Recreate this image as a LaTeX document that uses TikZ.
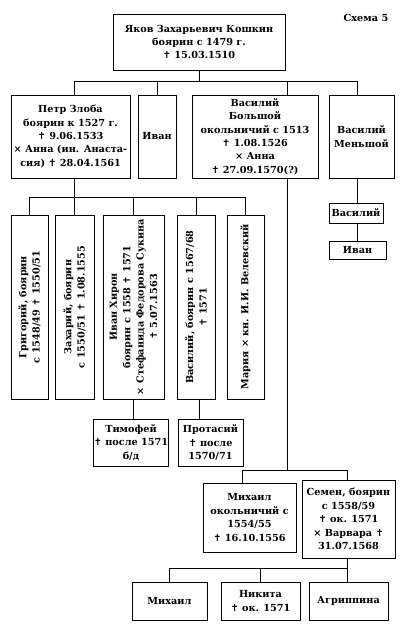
\documentclass[tikz,border=0pt]{standalone}
\usepackage{fontspec}
\setmainfont{DejaVu Serif}
\newfontfamily\crossfont{DejaVu Sans}
\newcommand\dcr{{\crossfont\mdseries ✝}}
\begin{document}
\begin{tikzpicture}[x=1pt,y=-1pt,
  box/.style={draw,line width=1pt,inner sep=0pt,align=center,
    font=\fontsize{9.7}{13.4}\selectfont\bfseries},
  vbox/.style={box,rotate=90},
  conn/.style={line width=1pt}]
\useasboundingbox (0,0) rectangle (400,627);
% generation 1
\node[box,minimum width=172,minimum height=56] (top) at (199,42)
  {Яков Захарьевич Кошкин\\боярин с 1479 г.\\\dcr\ 15.03.1510};
\node[font=\fontsize{9.7}{12}\selectfont\bfseries] (schema) at (366,18) {Схема 5};
% generation 2
\node[box,minimum width=119,minimum height=83] (petr) at (70.5,136.5)
  {Петр Злоба\\боярин к 1527 г.\\\dcr\ 9.06.1533\\× Анна (ин. Анаста-\\сия) \dcr\ 28.04.1561};
\node[box,minimum width=38,minimum height=83] (ivan) at (157,136.5) {Иван};
\node[box,minimum width=126,minimum height=83] (vasb) at (255,136.5)
  {Василий\\Большой\\окольничий с 1513\\\dcr\ 1.08.1526\\× Анна\\\dcr\ 27.09.1570(?)};
\node[box,minimum width=65,minimum height=83] (vasm) at (361.5,136.5) {Василий\\Меньшой};
% children of Petr
\node[vbox,minimum width=184,minimum height=37] (grig) at (29.5,307)
  {Григорий, боярин\\с 1548/49 \dcr\ 1550/51};
\node[vbox,minimum width=184,minimum height=39] (zach) at (74.5,307)
  {Захарий, боярин\\с 1550/51 \dcr\ 1.08.1555};
\node[vbox,minimum width=184,minimum height=61] (ivh) at (133.5,307)
  {Иван Хирон\\боярин с 1558 \dcr\ 1571\\× Стефанида Федорова Сукина\\\dcr\ 5.07.1563};
\node[vbox,minimum width=184,minimum height=38] (vas2) at (196,307)
  {Василий, боярин с 1567/68\\\dcr\ 1571};
\node[vbox,minimum width=184,minimum height=37] (maria) at (245.5,307)
  {Мария × кн. И.И. Велевский};
% line of Vasily Menshoy
\node[box,minimum width=54,minimum height=20] (vas3) at (356,213) {Василий};
\node[box,minimum width=57,minimum height=18] (ivan3) at (357.5,250) {Иван};
% grandchildren
\node[box,minimum width=72,minimum height=47] (tim) at (131,442.5)
  {Тимофей\\\dcr\ после 1571\\б/д};
\node[box,minimum width=65,minimum height=47] (prot) at (210.5,442.5)
  {Протасий\\\dcr\ после\\1570/71};
\node[box,minimum width=93,minimum height=69] (mih) at (249.5,517.5)
  {Михаил\\окольничий с\\1554/55\\\dcr\ 16.10.1556};
\node[box,minimum width=93,minimum height=78] (sem) at (348.5,519)
  {Семен, боярин\\с 1558/59\\\dcr\ ок. 1571\\× Варвара \dcr\\31.07.1568};
\node[box,minimum width=75,minimum height=38] (mih2) at (169.5,601) {Михаил};
\node[box,minimum width=79,minimum height=38] (nik) at (260.5,601) {Никита\\\dcr\ ок. 1571};
\node[box,minimum width=79,minimum height=38] (agr) at (348.5,601) {Агриппина};
% junction coordinates
\coordinate (tj) at (199,81);
\coordinate (bL) at (74,81);
\coordinate (bV) at (287,81);
\coordinate (bM) at (357,81);
\coordinate (pj) at (74,197);
\coordinate (dPr) at (199,0);
\coordinate (mL) at (242,470);
\coordinate (mj) at (287,470);
\coordinate (mR) at (347,470);
\coordinate (kj) at (347,568);
% connectors
\draw[conn] (top.south) -- (tj);
\draw[conn] (bL) -- (bM);
\draw[conn] (bL) -- (bL |- petr.north);
\draw[conn] (ivan.north) -- (ivan.north |- tj);
\draw[conn] (bV) -- (bV |- vasb.north);
\draw[conn] (bM) -- (bM |- vasm.north);
\draw[conn] (pj |- petr.south) -- (pj);
\draw[conn] (grig.east |- pj) -- (maria.east |- pj);
\draw[conn] (grig.east) -- (grig.east |- pj);
\draw[conn] (zach.east) -- (zach.east |- pj);
\draw[conn] (ivh.east) -- (ivh.east |- pj);
\draw[conn] (vas2.east) -- (vas2.east |- pj);
\draw[conn] (maria.east) -- (maria.east |- pj);
\draw[conn] (ivh.west) -- (ivh.west |- tim.north);
\draw[conn] (dPr |- vas2.west) -- (dPr |- prot.north);
\draw[conn] (mj |- vasb.south) -- (mj);
\draw[conn] (mL) -- (mR);
\draw[conn] (mL) -- (mL |- mih.north);
\draw[conn] (mR) -- (mR |- sem.north);
\draw[conn] (kj |- sem.south) -- (kj |- agr.north);
\draw[conn] (mih2.north |- kj) -- (kj);
\draw[conn] (mih2.north) -- (mih2.north |- kj);
\draw[conn] (nik.north) -- (nik.north |- kj);
\draw[conn] (bM |- vasm.south) -- (bM |- vas3.north);
\draw[conn] (bM |- vas3.south) -- (bM |- ivan3.north);
\end{tikzpicture}
\end{document}
